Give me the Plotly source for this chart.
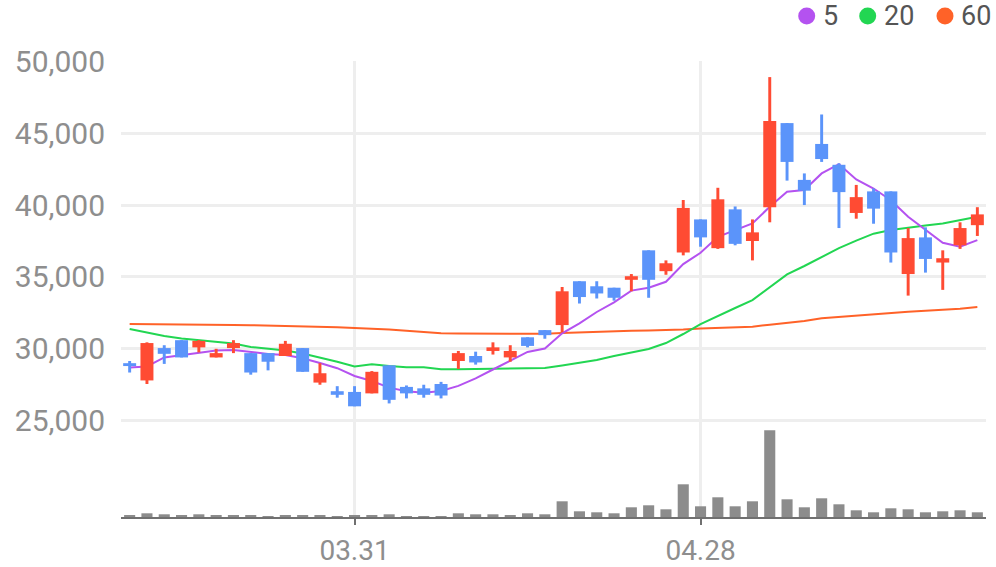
import plotly.graph_objects as go

# ---------------- data ----------------
idx = list(range(50))
tick_pos = [13, 33]
tick_text = ["03.31", "04.28"]

opens = [29000, 27800, 30050, 30600, 30100, 29400, 30050, 29700, 29700, 29500,
         30050, 27650, 27050, 27000, 26900, 28850, 27350, 27250, 27550, 29150,
         29500, 29850, 29400, 30800, 31300, 31650, 34700, 34350, 34250, 34800,
         36850, 35400, 36700, 39000, 37000, 39700, 37500, 39850, 45700, 41750,
         44250, 42800, 39450, 40950, 40950, 35200, 37750, 36000, 37200, 38600]
highs = [29150, 30450, 30250, 30600, 30600, 30000, 30600, 29700, 29700, 30550,
         30050, 29000, 27400, 27400, 28450, 28850, 27450, 27500, 27700, 29850,
         29800, 30450, 30250, 30800, 31300, 34300, 34700, 34700, 34250, 35200,
         36850, 36150, 40350, 39000, 41200, 39900, 39000, 48900, 45700, 42200,
         46300, 42900, 41400, 41150, 40950, 38400, 38450, 36850, 38800, 39850]
lows = [28350, 27550, 28950, 29400, 29750, 29400, 29700, 28200, 28500, 29500,
        28400, 27500, 26600, 26000, 26900, 26200, 26550, 26600, 26550, 28600,
        28900, 29600, 29100, 30100, 30700, 31150, 33150, 33500, 33350, 34000,
        33550, 35150, 36500, 37100, 36950, 37200, 36150, 38800, 41700, 40000,
        43000, 38400, 39050, 38700, 36000, 33700, 35300, 34100, 36950, 37850]
closes = [28800, 30400, 29650, 29400, 30550, 29700, 30400, 28350, 29100, 30350,
          28400, 28300, 26800, 26000, 28400, 26450, 26900, 26800, 26750, 29700,
          29050, 30100, 29850, 30200, 30950, 34000, 33600, 33850, 33550, 35050,
          34800, 35950, 39800, 37750, 40400, 37300, 38100, 45850, 43000, 41000,
          43200, 40900, 40550, 39750, 36700, 37700, 36250, 36300, 38400, 39350]
volumes = [85, 185, 135, 85, 135, 85, 85, 85, 35, 85,
           85, 85, 35, 85, 85, 135, 35, 35, 35, 185,
           135, 135, 85, 185, 135, 785, 285, 235, 185, 485,
           585, 385, 1635, 535, 985, 535, 785, 4335, 885, 485,
           935, 635, 335, 235, 435, 385, 235, 285, 335, 235]
volumes = [v * 1000 for v in volumes]

ma5 = [28700, 28770, 29400, 29570, 29730, 29880, 29920, 29780, 29640, 29570,
       29340, 29010, 28650, 28110, 27760, 27300, 27050, 26950, 27070, 27420,
       27940, 28560, 29150, 29780, 30020, 31080, 31770, 32560, 33230, 34050,
       34250, 34660, 35890, 36680, 37790, 38260, 38720, 39880, 40920, 41040,
       42200, 42840, 41780, 41150, 40340, 39180, 38260, 37370, 37100, 37560]
ma20 = [31380, 31130, 30890, 30720, 30610, 30510, 30370, 30130, 29990, 29880,
        29670, 29400, 29100, 28770, 28920, 28800, 28720, 28720, 28580, 28580,
        28600, 28620, 28630, 28650, 28670, 28840, 29010, 29220, 29500, 29760,
        29990, 30400, 31030, 31720, 32300, 32840, 33390, 34300, 35180, 35760,
        36400, 37000, 37530, 38010, 38260, 38430, 38570, 38710, 38950, 39180]
ma60 = [31720, 31700, 31690, 31680, 31670, 31660, 31650, 31640, 31620, 31600,
        31570, 31540, 31500, 31450, 31420, 31350, 31250, 31150, 31080, 31060,
        31050, 31040, 31030, 31030, 31040, 31100, 31150, 31180, 31220, 31250,
        31280, 31300, 31350, 31420, 31450, 31480, 31540, 31680, 31800, 31930,
        32130, 32230, 32330, 32420, 32500, 32580, 32640, 32690, 32790, 32900]

ma_names = ["5", "20", "60"]

# ---------------- styles ----------------
RED = "#FF4B33"
BLUE = "#5B94FA"
PURPLE = "#B452F0"
GREEN = "#22D652"
ORANGE = "#FF6228"
GRID = "#EEEEEE"
LABEL = "#8E8E8E"
FONT = "Roboto"

W, H = 996, 567
L, R, T, B = 121, 10, 61, 50
PW, PH = W - L - R, H - T - B

colors = [RED if c >= o else BLUE for o, c in zip(opens, closes)]
body_base = [min(o, c) for o, c in zip(opens, closes)]
body_h = [max(abs(c - o), 60) for o, c in zip(opens, closes)]
wick_h = [h - l for h, l in zip(highs, lows)]

fig = go.Figure()
fig.add_bar(x=idx, y=volumes, yaxis="y2", width=0.64,
            marker=dict(color="#8C8C8C", line=dict(width=0)), hoverinfo="skip")
for vals, col in [(ma60, ORANGE), (ma20, GREEN), (ma5, PURPLE)]:
    fig.add_scatter(x=idx, y=vals, mode="lines", yaxis="y",
                    line=dict(color=col, width=2), hoverinfo="skip")
fig.add_bar(x=idx, y=wick_h, base=lows, yaxis="y3", width=0.17,
            marker=dict(color=colors, line=dict(width=0)), hoverinfo="skip")
fig.add_bar(x=idx, y=body_h, base=body_base, yaxis="y3", width=0.75,
            marker=dict(color=colors, line=dict(width=0)), hoverinfo="skip")

yr = [18300, 50020]
fig.update_layout(
    width=W, height=H,
    margin=dict(l=L, r=R, t=T, b=B),
    paper_bgcolor="white", plot_bgcolor="white",
    barmode="overlay", showlegend=False,
    font=dict(family=FONT, color=LABEL),
    xaxis=dict(range=[-0.5, 49.5], tickvals=tick_pos, ticktext=tick_text,
               showgrid=True, gridcolor=GRID, gridwidth=2.5, zeroline=False,
               showline=True, linecolor="#707070", linewidth=1.5,
               ticks="outside", ticklen=6, tickwidth=1.5, tickcolor="#707070",
               tickfont=dict(size=28, color=LABEL, family=FONT),
               ticklabelstandoff=2, automargin=False, fixedrange=True),
    yaxis=dict(range=yr, tickvals=[25000, 30000, 35000, 40000, 45000, 50000],
               tickformat=",", showgrid=True, gridcolor=GRID, gridwidth=2.5,
               zeroline=False, showline=False, ticks="",
               tickfont=dict(size=30, color=LABEL, family=FONT),
               ticklabelstandoff=15, automargin=False, fixedrange=True),
    yaxis2=dict(range=[0, 22.8e6], overlaying="y", visible=False,
                showgrid=False, zeroline=False, fixedrange=True),
    yaxis3=dict(range=yr, overlaying="y", visible=False,
                showgrid=False, zeroline=False, fixedrange=True),
)

# legend drawn as circles + labels (top right)
def px_x(p):
    return (p - L) / PW

def px_y(p):
    return (H - B - p) / PH

legend_items = [(ma_names[0], PURPLE, 806.7, 822),
                (ma_names[1], GREEN, 867.7, 883),
                (ma_names[2], ORANGE, 945.0, 960)]
for name, col, cx, tx in legend_items:
    r = 8.5
    fig.add_shape(type="circle", xref="paper", yref="paper",
                  x0=px_x(cx - r), x1=px_x(cx + r), y0=px_y(16 + r), y1=px_y(16 - r),
                  fillcolor=col, line=dict(width=0))
    fig.add_annotation(xref="paper", yref="paper", x=px_x(tx), y=px_y(16),
                       xanchor="left", yanchor="middle", showarrow=False,
                       text=name, font=dict(size=27, color="#555555", family=FONT),
                       borderpad=0)

fig.write_html("out.html")
